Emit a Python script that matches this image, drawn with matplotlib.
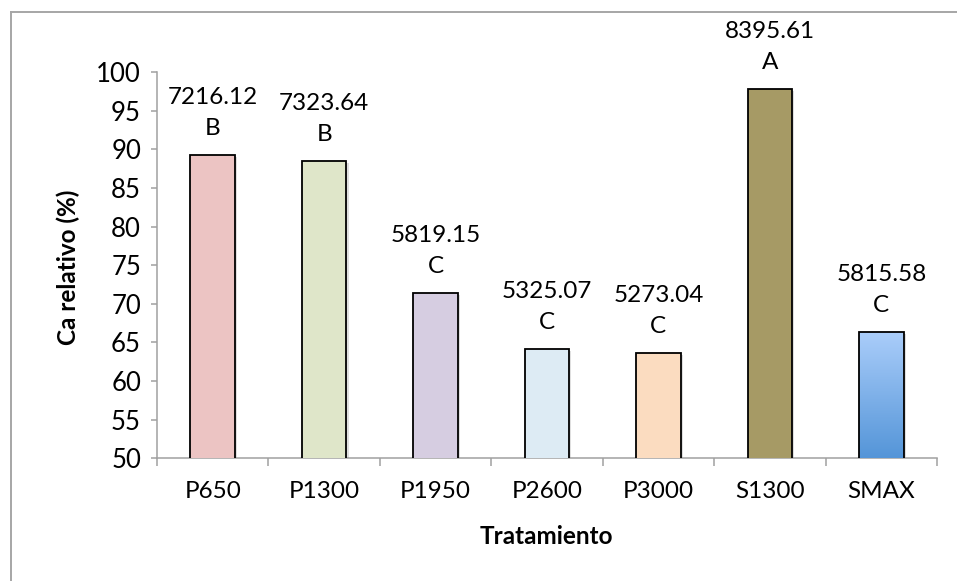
import numpy as np
import matplotlib
matplotlib.use("Agg")
import matplotlib.pyplot as plt
from matplotlib.lines import Line2D
from matplotlib.colors import LinearSegmentedColormap
import matplotlib.patheffects as pe

# Treatments and relative calcium (%)
tratamientos = ["P650", "P1300", "P1950", "P2600", "P3000", "S1300", "SMAX"]
ca_relativo = [89.3, 88.5, 71.4, 64.1, 63.6, 97.8, 66.3]
ca_absoluto = ["7216.12", "7323.64", "5819.15", "5325.07", "5273.04", "8395.61", "5815.58"]
letras = ["B", "B", "C", "C", "C", "A", "C"]
colores = ["#ecc4c3", "#dfe6c9", "#d6cde1", "#ddebf4", "#fbdcc0", "#a69a65", None]
y_ticks = list(range(50, 101, 5))

plt.rcParams["font.family"] = ["Lato", "DejaVu Sans"]

W, H = 957, 581
fig = plt.figure(figsize=(W / 100, H / 100), dpi=100)
fig.patch.set_facecolor("white")

# outer chart frame (top and left edges)
frame_c = "#a6a6a6"
fig.add_artist(Line2D([11 / W, 1.0], [1 - 12 / H, 1 - 12 / H], color=frame_c, lw=1.4,
                      transform=fig.transFigure))
fig.add_artist(Line2D([11 / W, 11 / W], [0.0, 1 - 12 / H], color=frame_c, lw=1.4,
                      transform=fig.transFigure))

left, right, top, bottom = 157, 937, 72, 458.3
ax = fig.add_axes([left / W, 1 - bottom / H, (right - left) / W, (bottom - top) / H])

x = np.arange(len(tratamientos))
bw = 0.40
axis_c = "#a0a0a0"

shadow = [pe.SimplePatchShadow(offset=(1.5, -1.5), shadow_rgbFace="#808080", alpha=0.25),
          pe.Normal()]

grad = LinearSegmentedColormap.from_list("smax", ["#5495d8", "#aacdfa"])
for i, (xi, v, c) in enumerate(zip(x, ca_relativo, colores)):
    if c is not None:
        b = ax.bar(xi, v, width=bw, color=c, edgecolor="black", linewidth=1.3, zorder=3)
        b[0].set_path_effects(shadow)
    else:
        b = ax.bar(xi, v, width=bw, facecolor="none", edgecolor="black", linewidth=1.3, zorder=4)
        base = ax.bar(xi, v, width=bw, color="#80b0e8", linewidth=0, zorder=2)
        base[0].set_path_effects(shadow)
        g = np.linspace(0, 1, 256).reshape(-1, 1)
        im = ax.imshow(g, cmap=grad, origin="lower", aspect="auto",
                       extent=[xi - bw / 2, xi + bw / 2, 50, v], zorder=3)
        im.set_clip_path(b[0])
    ax.annotate(ca_absoluto[i], (xi, v), xytext=(0, 41.5), textcoords="offset points",
                ha="center", va="center", fontsize=17.5, color="black")
    ax.annotate(letras[i], (xi, v), xytext=(0, 19), textcoords="offset points",
                ha="center", va="center", fontsize=17.5, color="black")

ax.set_xlim(-0.5, len(tratamientos) - 0.5)
ax.set_ylim(50, 100)
ax.set_yticks(y_ticks)
ax.set_xticks(x)
ax.set_xticklabels(tratamientos)
ax.set_xticks(np.arange(-0.5, len(tratamientos), 1.0), minor=True)

for s in ["top", "right"]:
    ax.spines[s].set_visible(False)
for s in ["left", "bottom"]:
    ax.spines[s].set_color(axis_c)
    ax.spines[s].set_linewidth(1.1)

ax.tick_params(axis="y", direction="out", length=4.5, width=1.1, color=axis_c,
               labelsize=18.5, pad=7)
ax.tick_params(axis="x", which="major", length=0, labelsize=17.5, pad=16)
ax.tick_params(axis="x", which="minor", direction="out", length=5.5, width=1.1, color=axis_c)

fig.text(68 / W, 1 - 267 / H, "Ca relativo (%)", rotation=90, ha="center", va="center",
         fontsize=17.5, fontweight="bold")
fig.text(546 / W, 1 - 536 / H, "Tratamiento", ha="center", va="center",
         fontsize=17.5, fontweight="bold")

fig.savefig("out.png", dpi=100, facecolor="white")
